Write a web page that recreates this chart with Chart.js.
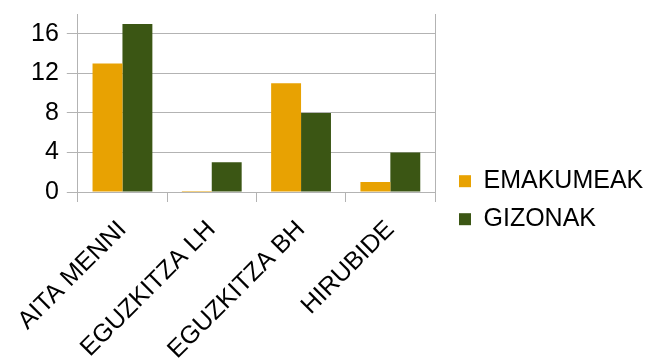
<!DOCTYPE html>
<html>
<head>
<meta charset="utf-8">
<script src="https://cdn.jsdelivr.net/npm/chart.js@4"></script>
<style>
  html, body { margin: 0; padding: 0; background: #fff; }
  #wrap { width: 656px; height: 360px; }
</style>
</head>
<body>
<div id="wrap"><canvas id="bars"></canvas></div>
<script>
var categories = ['AITA MENNI', 'EGUZKITZA LH', 'EGUZKITZA BH', 'HIRUBIDE'];
var emakumeak = [13, 0, 11, 1];
var gizonak = [17, 3, 8, 4];
var seriesNames = ['EMAKUMEAK', 'GIZONAK'];

var gridGray = '#b3b3b3';
Chart.defaults.font.family = "'Liberation Sans', Arial, sans-serif";
Chart.defaults.color = '#000';

// legend on the right is wider than chart.js allows by default
var legendWidth = {
    id: 'legendWidth',
    beforeInit: function (chart) {
        var fit = chart.legend.fit;
        chart.legend.fit = function () {
            fit.call(chart.legend);
            this.width = 210;
        };
    }
};

var ctx = document.getElementById('bars').getContext('2d');
var myChart = new Chart(ctx, {
    type: 'bar',
    data: {
        labels: categories,
        datasets: [{
            label: seriesNames[0],
            data: emakumeak,
            backgroundColor: '#e8a202',
            borderWidth: 0,
            minBarLength: 1
        }, {
            label: seriesNames[1],
            data: gizonak,
            backgroundColor: '#3b5614',
            borderWidth: 0
        }]
    },
    plugins: [legendWidth],
    options: {
        responsive: true,
        maintainAspectRatio: false,
        animation: false,
        categoryPercentage: 0.67,
        barPercentage: 1.0,
        layout: { padding: { left: 23, top: 14, right: 0, bottom: 0 } },
        plugins: {
            tooltip: { enabled: false },
            legend: {
                position: 'right',
                title: { display: true, text: ' ', font: { size: 22 }, padding: 0 },
                labels: {
                    boxWidth: 12,
                    boxHeight: 12,
                    padding: 13,
                    font: { size: 25 },
                    color: '#000'
                }
            }
        },
        scales: {
            x: {
                grid: {
                    offset: true,
                    color: function (c) {
                        return (c.index === 0 || c.index === categories.length) ? gridGray : 'rgba(0,0,0,0)';
                    },
                    tickColor: gridGray,
                    tickLength: 10
                },
                border: { color: gridGray },
                ticks: {
                    minRotation: 45,
                    maxRotation: 45,
                    padding: 13,
                    font: { size: 25 }
                },
                afterFit: function (s) {
                    s.height = 168;
                    s.paddingLeft = 0;
                    s.paddingRight = 0;
                }
            },
            y: {
                min: 0,
                max: 18,
                grid: { color: gridGray, tickColor: gridGray, tickLength: 11 },
                border: { color: gridGray },
                ticks: {
                    stepSize: 2,
                    padding: 8,
                    font: { size: 25 },
                    callback: function (v) { return v % 4 === 0 && v < 18 ? v : ''; }
                },
                afterFit: function (s) {
                    s.paddingTop = 0;
                    s.paddingBottom = 0;
                }
            },
            y2: {
                position: 'right',
                display: true,
                grid: { drawOnChartArea: false, drawTicks: false },
                border: { color: gridGray },
                ticks: { display: false },
                afterFit: function (s) { s.width = 11; }
            }
        }
    }
});
</script>
</body>
</html>
